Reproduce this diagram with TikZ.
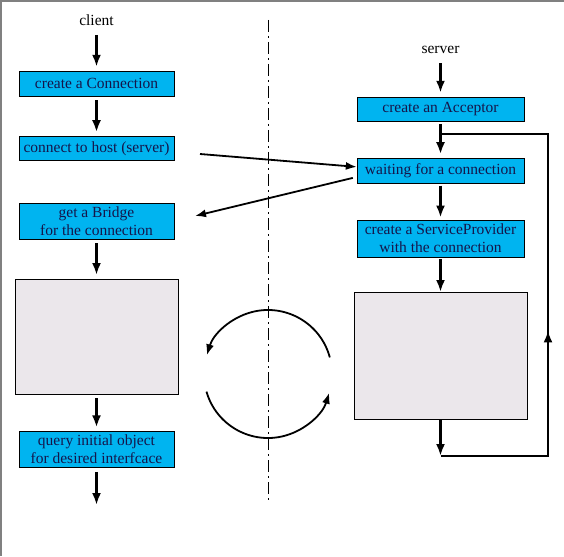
\documentclass[tikz,border=0pt]{standalone}
\usepackage{fontspec}
\setmainfont{Liberation Serif}
\usepackage{xcolor}
\definecolor{boxBlue}{HTML}{00B4F0}
\definecolor{boxGray}{HTML}{EBE7EB}
\definecolor{boxText}{HTML}{15154A}
\colorlet{colorFrame}{black!50}
\usetikzlibrary{arrows.meta, positioning}
\tikzset{
  sidetext/.style={font=\fontsize{15.5}{18}\selectfont},
  stepbox/.style={draw=black, fill=boxBlue, text=boxText, inner sep=0pt, align=center, font=\fontsize{15.5}{18}\selectfont},
  clientbox/.style={stepbox, minimum width=155pt},
  serverbox/.style={stepbox, minimum width=167pt},
  graybox/.style={draw=black, fill=boxGray},
  flow/.style={-{Latex[length=12pt,width=9pt]}, line width=2.5pt, shorten <=4pt, shorten >=4pt},
  link/.style={-{Latex[length=11pt,width=8pt]}, line width=1.8pt},
  divider/.style={line width=1pt, dash pattern=on 12pt off 4pt on 2pt off 4pt}
}
\begin{document}
\begin{tikzpicture}[x=1pt, y=1pt]
\useasboundingbox (0,0) rectangle (564,-556);
\draw[colorFrame, line width=2pt] (1,-556) -- (1,-1) -- (564,-1);
\node[sidetext] (client) at (96.5,-20) {client};
\node[clientbox, minimum height=25pt] (conn) at (96.5,-83.5) {create a Connection};
\node[clientbox, minimum height=24pt, below=40pt of conn] (host) {connect to host (server)};
\node[clientbox, minimum height=36pt, below=42pt of host] (bridge) {get a Bridge\\for the connection};
\node[graybox, minimum width=163pt, minimum height=115pt, below=40pt of bridge] (cstub) {};
\node[clientbox, minimum height=36pt, below=37pt of cstub] (query) {query initial object\\for desired interfcace};
\coordinate (cend) at (96.5,-505);
\node[sidetext] (server) at (440.5,-50) {server};
\node[serverbox, minimum height=24pt] (acc) at (440.5,-109) {create an Acceptor};
\node[serverbox, minimum height=25pt, below=37pt of acc] (wait) {waiting for a connection};
\node[serverbox, minimum height=37pt, below=36pt of wait] (prov) {create a ServiceProvider\\with the connection};
\node[graybox, minimum width=173pt, minimum height=127pt, below=35pt of prov] (sstub) {};
\coordinate (lb) at (440.5,-456);
\coordinate (rb) at (548,-456);
\coordinate (rt) at (548,-134);
\coordinate (lt) at (440.5,-134);
\coordinate (hostout) at (200,-154);
\coordinate (bridgein) at (195,-216);
\coordinate (cyc) at (268,-374);
\coordinate (dtop) at (268,-20);
\coordinate (dbot) at (268,-502);
\draw[divider] (dtop) -- (dbot);
\draw[flow, shorten <=6pt] (client) -- (conn);
\draw[flow] (conn) -- (host);
\draw[flow] (bridge) -- (cstub);
\draw[flow] (cstub) -- (query);
\draw[flow, shorten >=0pt] (query) -- (cend);
\draw[flow, shorten <=6pt] (server) -- (acc);
\draw[flow, shorten <=3pt] (acc) -- (wait);
\draw[flow, shorten <=2pt, shorten >=2pt] (wait) -- (prov);
\draw[flow, shorten <=2pt, shorten >=0pt] (prov) -- (sstub);
\draw[flow, shorten <=0pt, shorten >=0pt] (sstub) -- (lb);
\draw[line width=2.5pt] (lb) -- (rb) -- (rt) -- (lt);
\path (rb) -- (rt) coordinate[pos=0.39] (rmid);
\draw[flow, shorten <=0pt, shorten >=0pt] (rb) -- (rmid);
\draw[link] (hostout) -- ([yshift=4pt]wait.west);
\draw[link] ([xshift=-4pt, yshift=-7pt]wait.west) -- (bridgein);
\draw[link] ([shift={(15:64pt)}]cyc) arc[start angle=15, end angle=163, radius=64pt];
\draw[link] ([shift={(196:64pt)}]cyc) arc[start angle=196, end angle=343, radius=64pt];
\end{tikzpicture}
\end{document}
